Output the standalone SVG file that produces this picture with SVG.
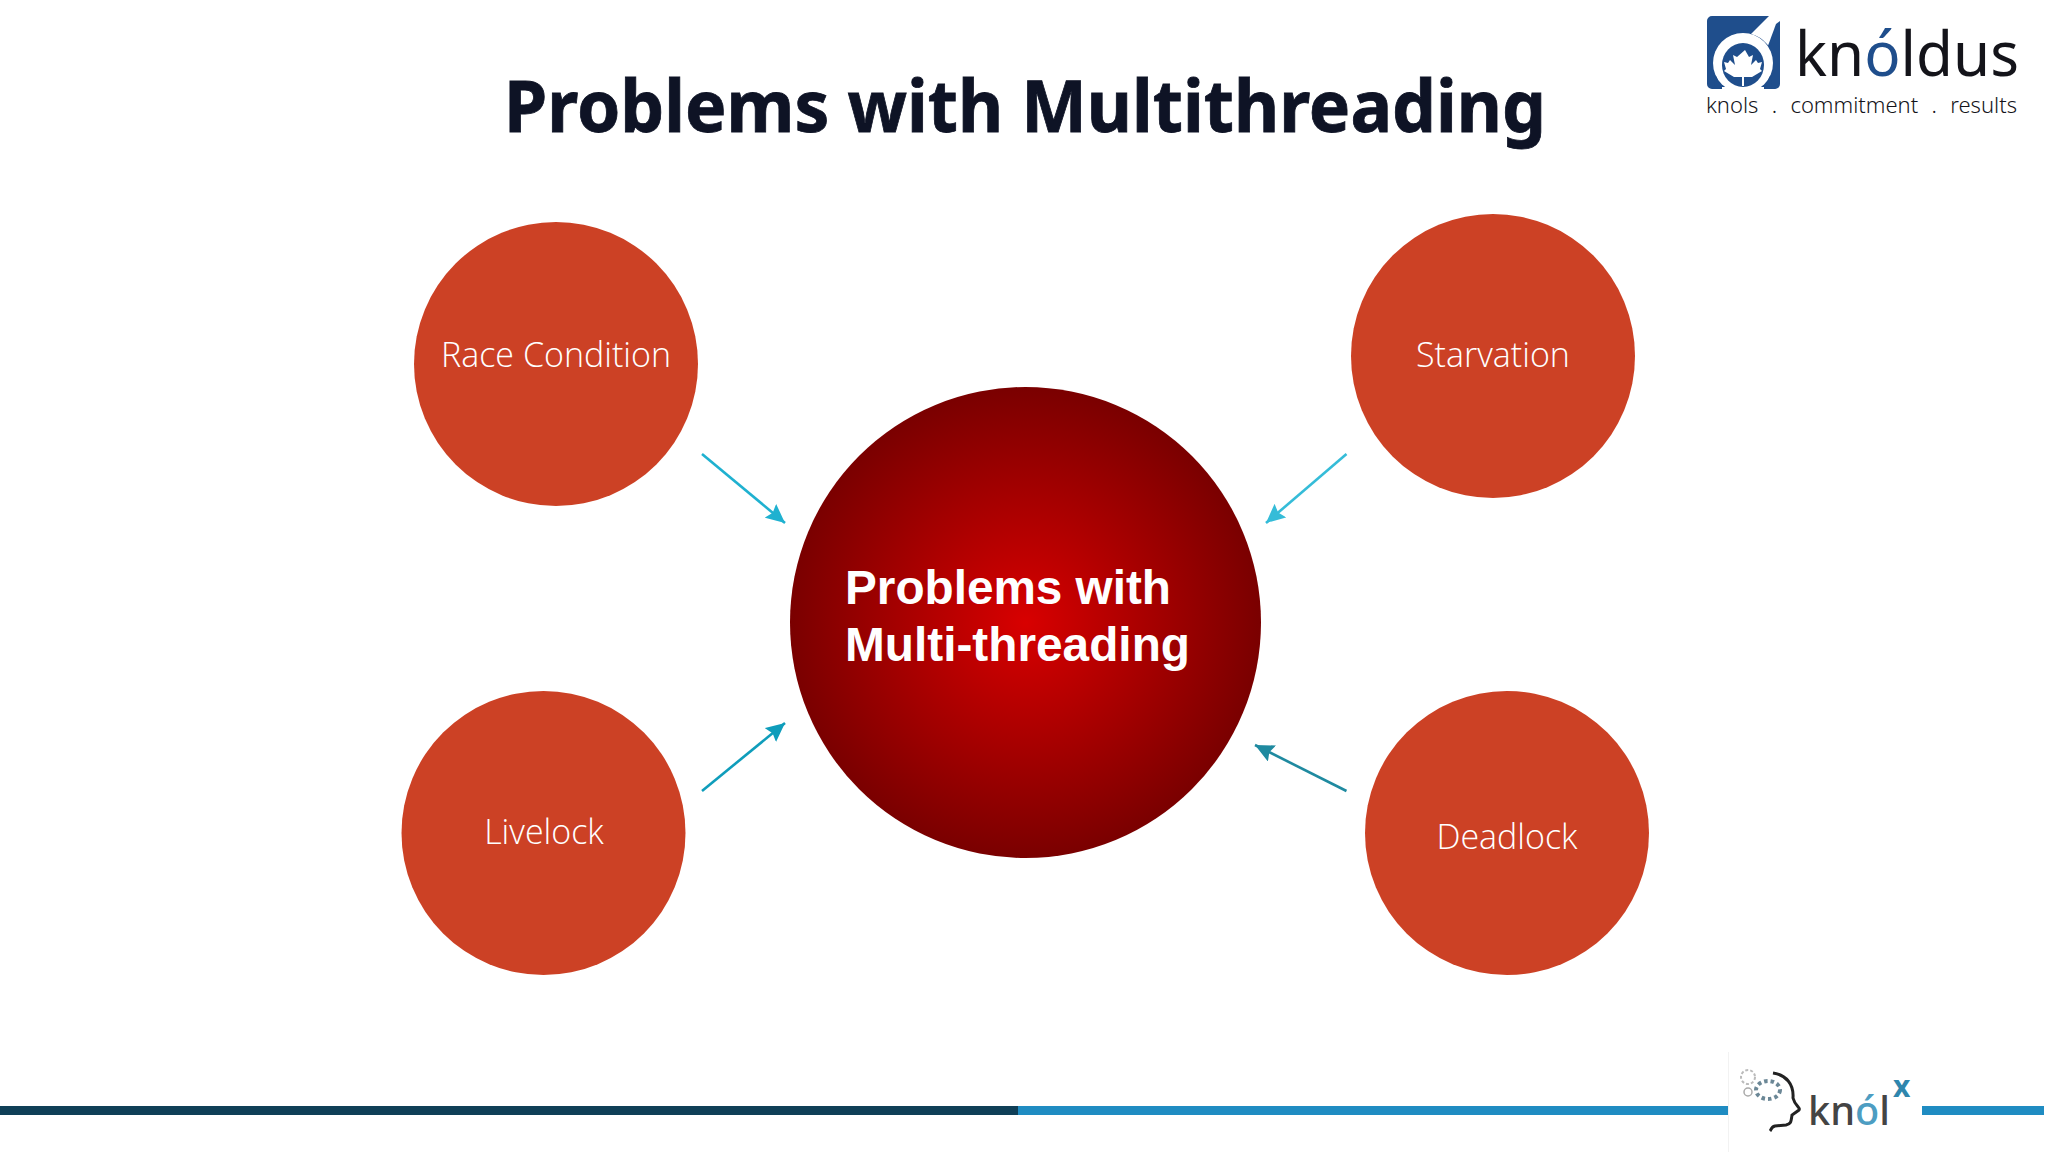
<svg xmlns="http://www.w3.org/2000/svg" width="2048" height="1152" viewBox="0 0 2048 1152">
<style>
.n{fill:#cc4125}
.l{font-family:"Open Sans","Noto Sans",sans-serif;font-weight:300;font-size:34px;fill:#fff;text-anchor:middle}
.c{font-family:"Liberation Sans",Arial,sans-serif;font-weight:700;font-size:48px;fill:#fff}
.a{stroke-width:2.6;fill:none}
.ub{font-family:"Noto Sans","Open Sans",sans-serif;fill:#14141a}
</style>
<defs>
<radialGradient id="g" cx="50%" cy="50%" r="50%"><stop offset="0" stop-color="#d80000"/><stop offset="1" stop-color="#7a0000"/></radialGradient>
<marker id="m1" markerWidth="20" markerHeight="18" refX="19" refY="9" orient="auto" markerUnits="userSpaceOnUse"><path d="M0 0L19 9L0 18L3 9Z" fill="#1fb1d0"/></marker>
<marker id="m2" markerWidth="20" markerHeight="18" refX="19" refY="9" orient="auto" markerUnits="userSpaceOnUse"><path d="M0 0L19 9L0 18L3 9Z" fill="#35bcd8"/></marker>
<marker id="m3" markerWidth="20" markerHeight="18" refX="19" refY="9" orient="auto" markerUnits="userSpaceOnUse"><path d="M0 0L19 9L0 18L3 9Z" fill="#0f9dbb"/></marker>
<marker id="m4" markerWidth="20" markerHeight="18" refX="19" refY="9" orient="auto" markerUnits="userSpaceOnUse"><path d="M0 0L19 9L0 18L3 9Z" fill="#1f8aa0"/></marker>
</defs>
<rect width="2048" height="1152" fill="#fff"/>
<text id="title" x="504" y="132" font-family="'Noto Sans','Open Sans',sans-serif" font-weight="700" font-size="72" fill="#0e1325" stroke="#0e1325" stroke-width="0.8" textLength="1042" lengthAdjust="spacingAndGlyphs">Problems with Multithreading</text>
<g id="connectors">
<line class="a" x1="702" y1="454" x2="785" y2="523" stroke="#1fb1d0" marker-end="url(#m1)"/>
<line class="a" x1="1346.500" y1="454" x2="1266" y2="523" stroke="#35bcd8" marker-end="url(#m2)"/>
<line class="a" x1="702" y1="791" x2="785" y2="723" stroke="#0f9dbb" marker-end="url(#m3)"/>
<line class="a" x1="1346.500" y1="791" x2="1255" y2="745" stroke="#1f8aa0" marker-end="url(#m4)"/>
</g>
<g id="node-center"><circle cx="1025.500" cy="622.500" r="235.500" fill="url(#g)"/>
<text class="c" x="845" y="604" textLength="326" lengthAdjust="spacingAndGlyphs">Problems with</text><text class="c" x="845" y="661" textLength="345" lengthAdjust="spacingAndGlyphs">Multi-threading</text></g>
<g id="node-race"><circle class="n" cx="556" cy="364" r="142"/><text class="l" x="556" y="367" textLength="230" lengthAdjust="spacingAndGlyphs">Race Condition</text></g>
<g id="node-starvation"><circle class="n" cx="1493" cy="356" r="142"/><text class="l" x="1493" y="367">Starvation</text></g>
<g id="node-livelock"><circle class="n" cx="543.500" cy="833" r="142"/><text class="l" x="544" y="844">Livelock</text></g>
<g id="node-deadlock"><circle class="n" cx="1507" cy="833" r="142"/><text class="l" x="1507" y="849">Deadlock</text></g>
<g id="logo-knoldus">
<path d="M1712 16H1769L1751 34A33 38 0 0 1 1776 62V84A5 5 0 0 1 1775 89H1712A5 5 0 0 1 1707 84V21A5 5 0 0 1 1712 16Z" fill="#1f4e8c"/>
<path d="M1776 24L1780 21V84A5 5 0 0 1 1775 89H1762V62Z" fill="#1f4e8c"/>
<ellipse cx="1743" cy="63" rx="30" ry="30" fill="#fff"/>
<ellipse cx="1743" cy="65" rx="21" ry="22" fill="#1f4e8c"/>
<path d="M1714 89A30 30 0 0 1 1716 76L1722 89ZM1772 89A30 30 0 0 0 1770 76L1764 89Z" fill="#1f4e8c"/>
<rect x="1722" y="87" width="42" height="2" fill="#fff"/>
<path d="M1745 50L1749 57L1753 55L1751 65L1756 60L1758 63L1762 62L1760 69L1762 71L1752 77H1744V86H1742V77H1734L1724 71L1726 69L1724 62L1728 63L1730 60L1735 65L1733 55L1737 57Z" fill="#fff"/>
<text class="ub" x="1795" y="76" font-size="62" font-weight="400" textLength="224" lengthAdjust="spacingAndGlyphs">kn<tspan fill="#1f4e8c">ó</tspan>ldus</text>
<text class="ub" x="1706" y="113" font-size="22" font-weight="300" word-spacing="7.600">knols . commitment . results</text>
</g>
<g id="footer">
<rect x="0" y="1106" width="1018" height="9" fill="#0f3f57"/>
<rect x="1018" y="1106" width="710" height="9" fill="#1f8cc2"/>
<rect x="1922" y="1106" width="122" height="9" fill="#1f8cc2"/>
<rect x="1728" y="1052" width="1" height="100" fill="#f2f2f2"/>
</g>
<g id="logo-knolx">
<path d="M1773 1073C1786 1075 1794 1084 1793 1098C1795 1106 1801 1108 1799 1110L1792 1115C1791 1122 1791 1124 1786 1125L1775 1126C1771 1127 1771 1130 1770 1131" fill="none" stroke="#222" stroke-width="3"/>
<ellipse cx="1768" cy="1090" rx="12" ry="9" fill="none" stroke="#6b8796" stroke-width="4" stroke-dasharray="3.500 3"/>
<circle cx="1748" cy="1077" r="7" fill="none" stroke="#bbb" stroke-width="2" stroke-dasharray="3 2"/>
<circle cx="1748" cy="1092" r="4" fill="none" stroke="#aaa" stroke-width="1.500"/>
<text x="1808" y="1125" font-family="'Noto Sans','Open Sans',sans-serif" font-size="40" font-weight="500" fill="#444" textLength="82" lengthAdjust="spacingAndGlyphs">kn<tspan fill="#4d9dc2">ó</tspan>l</text>
<text x="1893" y="1097" font-family="'Noto Sans','Open Sans',sans-serif" font-size="30" font-weight="700" fill="#2f86ad">x</text>
</g>
</svg>
